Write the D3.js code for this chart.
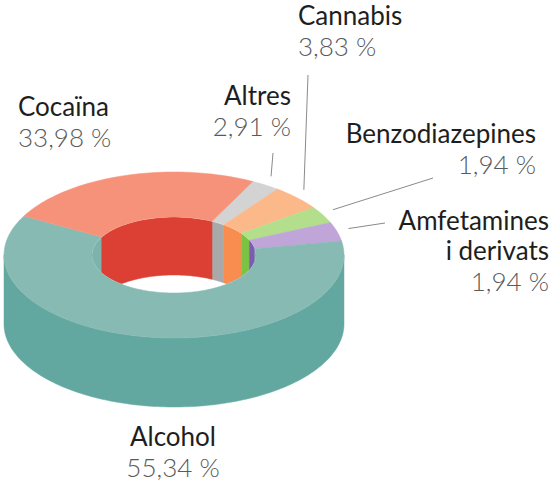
<!doctype html>
<html>
<head>
<meta charset="utf-8">
<title>Donut 3D</title>
<style>
  body { margin: 0; background: #fff; }
  svg text { font-family: Lato, "Open Sans", sans-serif; }
  .name { fill: #1e1e1e; font-size: 26px; }
  .pct { fill: #5a5a5a; font-size: 26px; font-weight: 300; }
  .leader { stroke: #8a8a8a; stroke-width: 1; fill: none; }
</style>
<script src="https://cdnjs.cloudflare.com/ajax/libs/d3/7.8.5/d3.min.js"></script>
</head>
<body>
<div id="chart"></div>
<script>
// dades (ordre en sentit horari des de dalt a la dreta)
const categories = ['Altres', 'Cannabis', 'Benzodiazepines', 'Amfetamines i derivats', 'Alcohol', 'Cocaïna'];
const values = [2.91, 3.83, 1.94, 1.94, 55.34, 33.98];
const labels = ['2,91 %', '3,83 %', '1,94 %', '1,94 %', '55,34 %', '33,98 %'];

const topColors   = ['#d3d3d3', '#fbb98a', '#b3df8c', '#c0a5d8', '#88bab4', '#f6927a'];
const innerColors = ['#a9a9a9', '#f98c4f', '#7cc243', '#7d5bb0', '#7db3ad', '#dc4035'];
const sideColors  = ['#a9a9a9', '#e9875a', '#86b85c', '#9a7fba', '#62a8a1', '#d9705a'];

// posicions de les etiquetes
const labelLayout = {
  'Altres':                 {x: 291, y: 105, anchor: 'end',    leader: [273, 153]},
  'Cannabis':               {x: 298, y: 25,  anchor: 'start',  leader: [308, 75]},
  'Benzodiazepines':        {x: 536, y: 143, anchor: 'end',    leader: [433, 178]},
  'Amfetamines i derivats': {x: 549, y: 230, anchor: 'end',    leader: [385, 223]},
  'Alcohol':                {x: 173, y: 446, anchor: 'middle'},
  'Cocaïna':                {x: 18,  y: 116, anchor: 'start'}
};

const W = 553, H = 484;
const cx = 174, cy = 255, rx = 170, ry = 83, irx = 82, iry = 38;
const depth = 69, innerDepth = 58;
const startDeg = 47;

const svg = d3.select('#chart').append('svg')
  .attr('width', W).attr('height', H);

const pie = d3.pie().sort(null).value(d => d.value)
  .startAngle(startDeg * Math.PI / 180)
  .endAngle(startDeg * Math.PI / 180 + 2 * Math.PI);

const data = categories.map((c, i) => ({
  name: c, value: values[i], label: labels[i],
  top: topColors[i], inner: innerColors[i], side: sideColors[i]
}));
const arcs = pie(data);

// angle de pantalla -> angle del paràmetre de l'el·lipse
function toParam(a) {
  let t = Math.atan2(ry * Math.sin(a), rx * Math.cos(a));
  let d = t - a;
  while (d > Math.PI) d -= 2 * Math.PI;
  while (d < -Math.PI) d += 2 * Math.PI;
  return a + d;
}
function pt(r1, r2, t, dy) {
  return [cx + r1 * Math.sin(t), cy - r2 * Math.cos(t) + (dy || 0)];
}
function arcPts(r1, r2, t0, t1, dy) {
  const n = Math.max(2, Math.ceil(Math.abs(t1 - t0) / 0.02));
  return d3.range(n + 1).map(k => pt(r1, r2, t0 + (t1 - t0) * k / n, dy));
}
const line = d3.line();

arcs.forEach(a => {
  a.t0 = toParam(a.startAngle);
  a.t1 = toParam(a.endAngle);
});

// intersecció d'un interval amb un altre (amb períodes de 2π)
function clipRange(t0, t1, lo, hi) {
  const out = [];
  for (let k = -1; k <= 2; k++) {
    const s = Math.max(t0, lo + 2 * Math.PI * k);
    const e = Math.min(t1, hi + 2 * Math.PI * k);
    if (e > s) out.push([s, e]);
  }
  return out;
}

// parets exteriors (part davantera)
const sides = svg.append('g');
arcs.forEach(a => {
  clipRange(a.t0, a.t1, Math.PI / 2, 3 * Math.PI / 2).forEach(([s, e]) => {
    const p = arcPts(rx, ry, s, e, 0).concat(arcPts(rx, ry, e, s, depth));
    sides.append('path').attr('d', line(p) + 'Z')
      .attr('fill', a.data.side).attr('stroke', a.data.side).attr('stroke-width', 0.5);
  });
});

// parets interiors (part del fons, dins el forat)
svg.append('clipPath').attr('id', 'hole')
  .append('ellipse').attr('cx', cx).attr('cy', cy).attr('rx', irx).attr('ry', iry);
const inner = svg.append('g').attr('clip-path', 'url(#hole)');
arcs.forEach(a => {
  clipRange(a.t0, a.t1, -Math.PI / 2, Math.PI / 2).forEach(([s, e]) => {
    const p = arcPts(irx, iry, s, e, 0).concat(arcPts(irx, iry, e, s, innerDepth));
    inner.append('path').attr('d', line(p) + 'Z')
      .attr('fill', a.data.inner).attr('stroke', a.data.inner).attr('stroke-width', 0.5);
  });
});

// cara superior
const tops = svg.append('g');
arcs.forEach(a => {
  const p = arcPts(rx, ry, a.t0, a.t1, 0).concat(arcPts(irx, iry, a.t1, a.t0, 0));
  tops.append('path').attr('d', line(p) + 'Z')
    .attr('fill', a.data.top).attr('stroke', a.data.top).attr('stroke-width', 0.5);
});

// línies guia
arcs.forEach(a => {
  const L = labelLayout[a.data.name];
  if (!L.leader) return;
  const mid = toParam((a.startAngle + a.endAngle) / 2);
  const end = pt(rx + 12, ry + 10, mid, 0);
  svg.append('line').attr('class', 'leader')
    .attr('x1', L.leader[0]).attr('y1', L.leader[1])
    .attr('x2', end[0]).attr('y2', end[1]);
});

// etiquetes
arcs.forEach(a => {
  const L = labelLayout[a.data.name];
  const g = svg.append('text').attr('text-anchor', L.anchor);
  let lines = [a.data.name];
  if (a.data.name === 'Amfetamines i derivats') lines = ['Amfetamines', 'i derivats'];
  lines.forEach((t, i) => {
    g.append('tspan').attr('class', 'name').attr('x', L.x).attr('y', L.y + i * 30).text(t);
  });
  g.append('tspan').attr('class', 'pct').attr('x', L.x)
    .attr('y', L.y + (lines.length - 1) * 30 + 31).text(a.data.label);
});
</script>
</body>
</html>
